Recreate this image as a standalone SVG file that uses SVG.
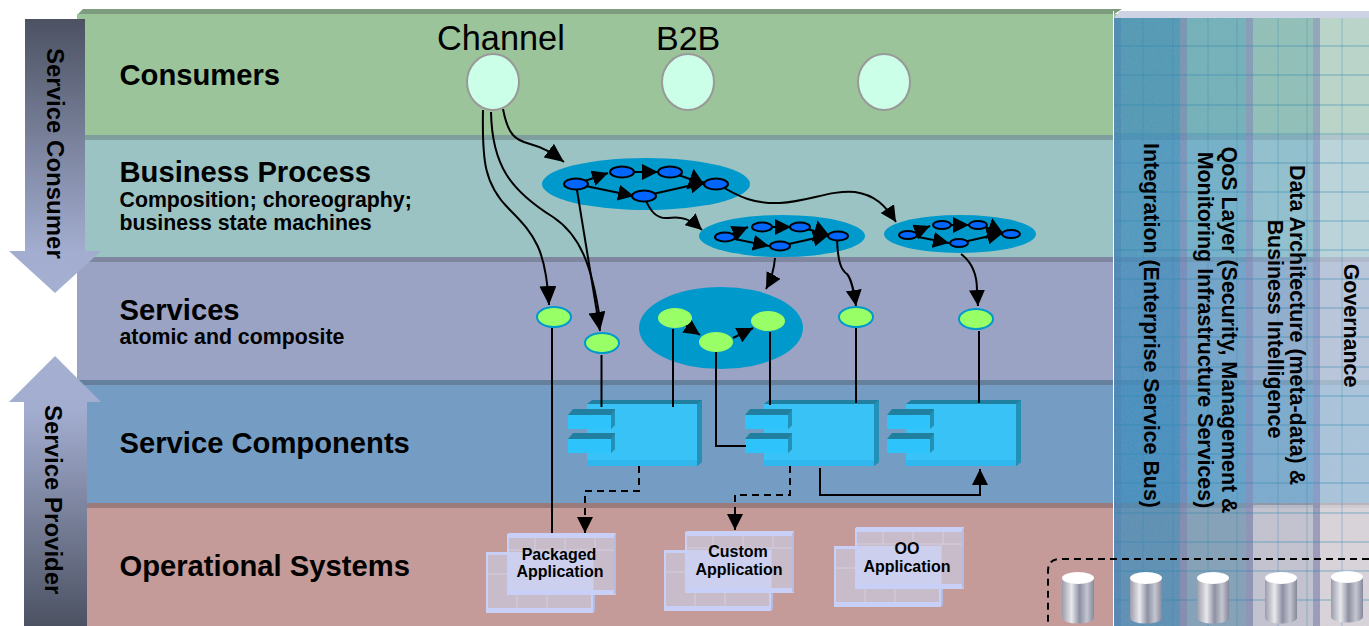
<svg xmlns="http://www.w3.org/2000/svg" xmlns:xlink="http://www.w3.org/1999/xlink" width="1369" height="626" viewBox="0 0 1369 626">
<style>
text{font-family:"Liberation Sans",Arial,sans-serif;fill:#000}
.b{font-weight:bold}
.h{font-size:29.2px;font-weight:bold}
.s{font-size:21.3px;font-weight:bold}
.r{font-size:21.4px;font-weight:bold;text-anchor:middle}
.a{font-size:16px;font-weight:bold;text-anchor:middle}
.c{fill:#ccffe8;stroke:#999;stroke-width:2}
.p{fill:#0099cc}
.n{fill:#0066ff;stroke:#000;stroke-width:2}
.g{fill:#99ff66}
.gs{fill:#99ff66;stroke:#0099cc;stroke-width:2}
.l{fill:none;stroke:#000;stroke-width:2}
.la{fill:none;stroke:#000;stroke-width:2;marker-end:url(#ah)}
.ls{fill:none;stroke:#000;stroke-width:2;marker-end:url(#ai)}
.lb{fill:none;stroke:#000;stroke-width:2;marker-end:url(#aj)}
.d{fill:none;stroke:#000;stroke-width:2;stroke-dasharray:7 5}
</style>
<defs>
<marker id="ah" markerUnits="userSpaceOnUse" markerWidth="19" markerHeight="17" viewBox="0 0 19 17" refX="19" refY="8.500" orient="auto"><path d="M0,0L19,8.500L0,17z"/></marker>
<marker id="ai" markerUnits="userSpaceOnUse" markerWidth="16" markerHeight="16" viewBox="0 0 16 16" refX="16" refY="8" orient="auto"><path d="M0,0L16,8L0,16z"/></marker>
<marker id="aj" markerUnits="userSpaceOnUse" markerWidth="15" markerHeight="22" viewBox="0 0 15 22" refX="15" refY="11" orient="auto"><path d="M0,0L15,11L0,22z"/></marker>
<linearGradient id="down" x1="0" y1="0" x2="0" y2="1"><stop offset="0" stop-color="#4c5262"/><stop offset=".85" stop-color="#a3add0"/><stop offset="1" stop-color="#a5afd0"/></linearGradient>
<linearGradient id="up" x1="0" y1="1" x2="0" y2="0"><stop offset="0" stop-color="#4c5262"/><stop offset=".8" stop-color="#a3add0"/><stop offset="1" stop-color="#a5afd0"/></linearGradient>
<linearGradient id="cyl" x1="0" y1="0" x2="1" y2="0"><stop offset="0" stop-color="#9a9cab"/><stop offset=".3" stop-color="#e8e8ec"/><stop offset=".55" stop-color="#8d90a2"/><stop offset=".78" stop-color="#c4c6d0"/><stop offset="1" stop-color="#85889a"/></linearGradient>
<filter id="noise" x="0" y="0" width="100%" height="100%"><feTurbulence type="fractalNoise" baseFrequency="1.1" numOctaves="2" seed="4"/><feColorMatrix values="0 0 0 0 .5 0 0 0 0 .5 0 0 0 0 .5 1.2 0 0 0 -.45"/></filter>
<g id="tab"><path d="M-19,15L-14,9H28V25L24,29H-19z" fill="#21809f"/><path d="M24,15L28,9V25L24,29z" fill="#2390b5"/><rect x="-19" y="15" width="43" height="14" fill="#2ec4fb"/></g>
<g id="comp">
<path d="M0,4L5,0H115V62L110,66H0z" fill="#21809f"/>
<path d="M110,4L115,0V62L110,66z" fill="#2390b5"/>
<rect x="0" y="4" width="110" height="62" fill="#38c2f6"/>
<rect x="0" y="60" width="110" height="6" fill="#30b8ee"/>
<use xlink:href="#tab" href="#tab"/>
<use xlink:href="#tab" href="#tab" y="24"/>
</g>
<g id="app">
<path d="M-21,19H86V80H-21z" fill="#c8d0f8"/><path d="M86,21L88,19V78L86,80z" fill="#b5bce0"/>
<rect x="-19" y="22" width="103" height="53" fill="#c8bccb"/>
<path d="M-19,41H84M10,41V75M40,41V75" stroke="#d2cfe0" stroke-width="1" fill="none"/>
<path d="M0,1L2,0H109V62H0z" fill="#c8d0f8"/><path d="M107,3L109,0V60L107,62z" fill="#b5bce0"/>
<rect x="2" y="5" width="105" height="52" fill="#c8bccb"/>
<rect x="2" y="19" width="84" height="38" fill="#ccd0ee"/>
<path d="M2,17H107M28,5V17M58,5V17M88,5V17M86,17V57" stroke="#d2cfe0" stroke-width="1" fill="none"/>
</g>
<g id="cyl1">
<path d="M-16,7V47A16,5.500 0 0 0 16,47V7z" fill="url(#cyl)"/>
<ellipse cx="0" cy="7" rx="16" ry="6" fill="#fff"/>
</g>
</defs>

<g id="layers">
<path d="M77,15L83,9H1122L1113,15z" fill="#7d9b7d"/>
<rect x="77" y="14" width="1292" height="121" fill="#9bc49b"/>
<rect x="77" y="135" width="1292" height="5" fill="#7f9f9f"/>
<rect x="77" y="140" width="1292" height="117" fill="#9bc3c3"/>
<rect x="77" y="257" width="1292" height="5" fill="#7f87a0"/>
<rect x="77" y="262" width="1292" height="118" fill="#9aa3c3"/>
<rect x="77" y="380" width="1292" height="5" fill="#64809d"/>
<rect x="77" y="385" width="1292" height="118" fill="#759dc4"/>
<rect x="77" y="503" width="1292" height="5" fill="#9a7a7a"/>
<rect x="77" y="508" width="1292" height="118" fill="#c49b99"/>
</g>

<g id="vertical-panel">
<rect x="1113" y="11" width="1" height="615" fill="#fff"/>
<path d="M1114,18L1120,11H1369V18z" fill="#cdd2e4"/>
<rect x="1114" y="18" width="66" height="608" fill="#3c8cbe" fill-opacity=".75"/>
<rect x="1114" y="18" width="7" height="608" fill="#4a80b0" fill-opacity=".5"/>
<rect x="1180" y="18" width="7" height="608" fill="#6c88b8" fill-opacity=".75"/>
<rect x="1187" y="18" width="59" height="608" fill="#5aa5cd" fill-opacity=".6"/>
<rect x="1246" y="18" width="7" height="608" fill="#7d92c0" fill-opacity=".75"/>
<rect x="1253" y="18" width="60" height="608" fill="#86bcdc" fill-opacity=".45"/>
<rect x="1313" y="18" width="7" height="608" fill="#8d9cc8" fill-opacity=".75"/>
<rect x="1320" y="18" width="49" height="608" fill="#d4e4ee" fill-opacity=".55"/>
<rect x="1253" y="505" width="60" height="121" fill="#e4e2ee" fill-opacity=".45"/>
<rect x="1320" y="505" width="49" height="121" fill="#e8e8f0" fill-opacity=".45"/>
<rect x="1114" y="18" width="255" height="608" filter="url(#noise)" opacity=".25"/>
<path d="M1114,46H1369M1114,75H1369M1114,105H1369M1114,134H1369M1114,163H1369M1114,192H1369M1114,221H1369M1114,250H1369M1114,279H1369M1114,308H1369M1114,337H1369M1114,367H1369M1114,396H1369M1114,425H1369M1114,454H1369M1114,483H1369M1114,513H1369M1114,542H1369M1114,571H1369M1114,600H1369" stroke="#2f86b0" stroke-opacity=".55" stroke-width="1" fill="none"/>
<path d="M1143,18V626M1173,18V626M1208,18V626M1237,18V626M1278,18V626M1307,18V626M1342,18V626" stroke="#2f86b0" stroke-opacity=".35" stroke-width="1" fill="none"/>
<text class="r" transform="translate(1143.500,325.500) rotate(90)">Integration (Enterprise Service Bus)</text>
<text class="r" transform="translate(1221.500,330) rotate(90)">QoS Layer (Security, Management &amp;</text>
<text class="r" transform="translate(1197.500,330) rotate(90)">Monitoring Infrastructure Services)</text>
<text class="r" transform="translate(1289.500,325) rotate(90)">Data Architecture (meta-data) &amp;</text>
<text class="r" transform="translate(1267.500,329) rotate(90)">Business Intelligence</text>
<text class="r" transform="translate(1343.500,325.500) rotate(90)">Governance</text>
</g>

<g id="arrow-consumer"><path d="M25,19H85V251H101L55,293L9,251H25z" fill="url(#down)"/>
<text class="b" font-size="24" transform="translate(47,48) rotate(90)">Service Consumer</text></g>
<g id="arrow-provider"><path d="M55,356L101,402H87V626H24V402H9z" fill="url(#up)"/>
<text class="b" font-size="24" transform="translate(45,405) rotate(90)">Service Provider</text></g>

<g id="layer-labels">
<text class="h" x="119.500" y="85">Consumers</text>
<text class="h" x="119.500" y="182">Business Process</text>
<text class="s" x="119.500" y="207">Composition; choreography;</text>
<text class="s" x="119.500" y="230">business state machines</text>
<text class="h" x="119.500" y="320">Services</text>
<text class="s" x="119.500" y="344">atomic and composite</text>
<text class="h" x="119.500" y="453">Service Components</text>
<text class="h" x="119.500" y="576">Operational Systems</text>
</g>

<g id="process-pools">
<ellipse class="p" cx="646" cy="184" rx="104" ry="26"/>
<ellipse class="p" cx="782" cy="236" rx="83" ry="21"/>
<ellipse class="p" cx="960" cy="234" rx="76" ry="19"/>
<ellipse class="p" cx="721" cy="328" rx="82" ry="41"/>
</g>

<g id="components">
<use id="component-1" xlink:href="#comp" href="#comp" x="587" y="400"/>
<use id="component-2" xlink:href="#comp" href="#comp" x="764" y="400"/>
<use id="component-3" xlink:href="#comp" href="#comp" x="906" y="400"/>
</g>

<g id="connectors">
<path class="la" d="M483,110C482,160 484,185 510,210C535,235 546,250 549,305"/>
<path class="l" d="M491,112C492,165 510,190 553,217C580,235 592,265 600,320"/>
<path class="la" d="M503,109C508,135 515,140 530,144C545,148 552,153 564,162"/>
<path class="la" d="M576,184L600,331"/>
<path class="ls" d="M644,196C650,212 657,219 668,218C682,216 690,219 702,230"/>
<path class="ls" d="M716,183C740,198 755,204 780,203C810,201 830,190 855,192C875,195 885,205 896,222"/>
<path class="ls" d="M775,258C774,270 772,278 766,289"/>
<path class="ls" d="M837,240C838,262 841,270 847,274C852,280 854,292 856,306"/>
<path class="ls" d="M961,254C973,263 977,275 977,290L978,306"/>
<path class="ls" d="M576,184L608,173"/>
<path class="l" d="M622,172H670"/>
<path class="ls" d="M622,172H658"/>
<path class="lb" d="M670,172L704,184"/>
<path class="ls" d="M576,184L634,196"/>
<path class="ls" d="M644,196L706,182"/>
<path class="ls" d="M725,237L748,227"/>
<path class="ls" d="M762,227H791"/>
<path class="lb" d="M800,227L829,235"/>
<path class="ls" d="M725,237L769,246"/>
<path class="ls" d="M780,246L829,235"/>
<path class="ls" d="M908,235L930,226"/>
<path class="ls" d="M942,225H969"/>
<path class="lb" d="M978,225L1003,233"/>
<path class="ls" d="M908,235L949,243"/>
<path class="ls" d="M959,243L1003,233"/>
<path class="ls" d="M675,318L700,335"/>
<path class="ls" d="M733,338L753,328"/>
<path class="l" d="M552,328V535"/>
<path class="l" d="M601.500,355V407"/>
<path class="l" d="M673,329V407"/>
<path class="l" d="M716,352V446H746"/>
<path class="l" d="M770,332V405"/>
<path class="l" d="M856,327V403"/>
<path class="l" d="M979,331V403"/>
<path class="d" d="M639,466V491H585V520"/>
<path class="ls" d="M585,518V533"/>
<path class="d" d="M790,466V495H735V518"/>
<path class="ls" d="M735,516V530"/>
<path class="ls" d="M820,468V495H980V469"/>
<path class="d" d="M1369,559H1060Q1048,559 1048,571V626"/>
</g>

<g id="consumer-nodes">
<g id="channel"><ellipse class="c" cx="493" cy="82" rx="26" ry="28"/><text font-size="34.300" x="437" y="50">Channel</text></g>
<g id="b2b"><ellipse class="c" cx="688" cy="82" rx="26" ry="28"/><text font-size="34" x="656" y="50">B2B</text></g>
<g id="consumer-3"><ellipse class="c" cx="884" cy="82" rx="26" ry="28"/></g>
</g>

<g id="process-1">
<ellipse class="n" cx="576" cy="184" rx="12" ry="5.500"/><ellipse class="n" cx="622" cy="172" rx="12" ry="5.500"/><ellipse class="n" cx="670" cy="172" rx="12" ry="5.500"/><ellipse class="n" cx="716" cy="184" rx="12" ry="5.500"/><ellipse class="n" cx="644" cy="196" rx="12" ry="5.500"/>
</g>
<g id="process-2">
<ellipse class="n" cx="725" cy="237" rx="10" ry="4.500"/><ellipse class="n" cx="762" cy="227" rx="10" ry="4.500"/><ellipse class="n" cx="800" cy="227" rx="10" ry="4.500"/><ellipse class="n" cx="838" cy="236" rx="10" ry="4.500"/><ellipse class="n" cx="780" cy="246" rx="10" ry="4.500"/>
</g>
<g id="process-3">
<ellipse class="n" cx="908" cy="235" rx="9" ry="4"/><ellipse class="n" cx="942" cy="225" rx="9" ry="4"/><ellipse class="n" cx="978" cy="225" rx="9" ry="4"/><ellipse class="n" cx="1011" cy="234" rx="9" ry="4"/><ellipse class="n" cx="959" cy="243" rx="9" ry="4"/>
</g>

<g id="services">
<ellipse class="gs" cx="554" cy="317" rx="17" ry="10"/>
<ellipse class="gs" cx="602" cy="343" rx="17" ry="10"/>
<ellipse class="g" cx="675" cy="318" rx="17" ry="10"/>
<ellipse class="g" cx="716" cy="342" rx="17" ry="10"/>
<ellipse class="g" cx="768" cy="321" rx="17" ry="10"/>
<ellipse class="gs" cx="856" cy="317" rx="17" ry="10"/>
<ellipse class="gs" cx="976" cy="319" rx="17" ry="10"/>
</g>

<g id="app-packaged"><use xlink:href="#app" href="#app" x="507" y="533"/><text class="a" x="559" y="560">Packaged</text><text class="a" x="560" y="577">Application</text></g>
<g id="app-custom"><use xlink:href="#app" href="#app" x="685" y="531"/><text class="a" x="738" y="557">Custom</text><text class="a" x="739" y="575">Application</text></g>
<g id="app-oo"><use xlink:href="#app" href="#app" x="855" y="527"/><text class="a" x="907" y="554">OO</text><text class="a" x="907" y="572">Application</text></g>

<g id="data-stores">
<use xlink:href="#cyl1" href="#cyl1" x="1078" y="571"/>
<use xlink:href="#cyl1" href="#cyl1" x="1146" y="571"/>
<use xlink:href="#cyl1" href="#cyl1" x="1213" y="571"/>
<use xlink:href="#cyl1" href="#cyl1" x="1281" y="571"/>
<use xlink:href="#cyl1" href="#cyl1" x="1347" y="570"/>
</g>
</svg>
